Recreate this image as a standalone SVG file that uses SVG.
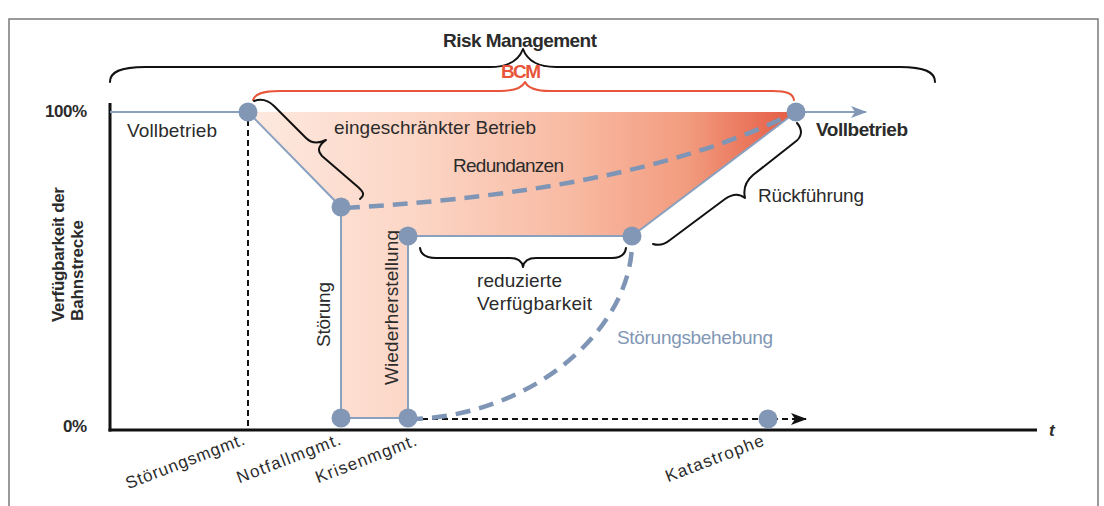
<svg xmlns="http://www.w3.org/2000/svg" width="1104" height="506" viewBox="0 0 1104 506">
  <defs>
    <linearGradient id="bcmFill" gradientUnits="userSpaceOnUse" x1="248" y1="0" x2="796" y2="0">
      <stop offset="0" stop-color="#fde9e0"/>
      <stop offset="0.3" stop-color="#fcd6c6"/>
      <stop offset="0.6" stop-color="#f8b9a1"/>
      <stop offset="0.8" stop-color="#f29c7f"/>
      <stop offset="1" stop-color="#e45a42"/>
    </linearGradient>
    <marker id="arrowBlue" viewBox="0 0 16 12" refX="15" refY="6" markerWidth="16" markerHeight="12" markerUnits="userSpaceOnUse" orient="auto">
      <path d="M0,0 L16,6 L0,12 L4,6 Z" fill="#8197b5"/>
    </marker>
    <marker id="arrowBlack" viewBox="0 0 16 12" refX="15" refY="6" markerWidth="16" markerHeight="12" markerUnits="userSpaceOnUse" orient="auto">
      <path d="M0,0 L16,6 L0,12 L4,6 Z" fill="#111"/>
    </marker>
  </defs>
  <style>
    .txt { font-family: "Liberation Sans", Arial, sans-serif; fill: #2b2b2b; }
    .lbl { font-size: 19px; }
    .bold { font-weight: bold; }
    .tick { font-size: 17px; }
    .path { fill: none; stroke: #8aa0bf; stroke-width: 2; }
    .dashBlue { fill: none; stroke: #7f95b5; stroke-width: 4.5; stroke-dasharray: 15 9; }
    .brace { fill: none; stroke: #111; stroke-width: 2; stroke-linecap: round; stroke-linejoin: round; }
    .node { fill: #8197b5; }
    .axis { stroke: #111; stroke-width: 3; fill: none; }
  </style>

  <!-- outer frame -->
  <path d="M9,506 L9,19 L1098,19 L1098,506" fill="none" stroke="#7a7a7a" stroke-width="1.5"/>

  <!-- shaded availability region -->
  <g id="region">
    <polygon points="248,112 796,112 632,236 408,236 408,418 341,418 341,207" fill="url(#bcmFill)"/>
  </g>

  <!-- axes -->
  <g id="axes">
    <line class="axis" x1="110" y1="103" x2="110" y2="431.5"/>
    <line class="axis" x1="108.5" y1="430" x2="1037" y2="430"/>
    <text class="txt bold" x="87" y="117" font-size="17" text-anchor="end" textLength="42">100%</text>
    <text class="txt bold" x="87" y="432" font-size="17" text-anchor="end" textLength="24">0%</text>
    <text class="txt bold" x="1049" y="436" font-size="17" font-style="italic">t</text>
    <text class="txt bold" font-size="17" transform="translate(64,322) rotate(-90)" textLength="135">Verfügbarkeit der</text>
    <text class="txt bold" font-size="17" transform="translate(83,321) rotate(-90)" textLength="101">Bahnstrecke</text>
  </g>

  <!-- connectors -->
  <g id="connectors">
    <line x1="248" y1="120" x2="248" y2="429" stroke="#111" stroke-width="2" stroke-dasharray="6 4"/>
    <line x1="412" y1="419" x2="806" y2="419" stroke="#111" stroke-width="2" stroke-dasharray="6 4" marker-end="url(#arrowBlack)"/>
    <polyline class="path" points="110,112 248,112 341,207 341,418 408,418 408,236 632,236 796,112"/>
    <line x1="796" y1="112" x2="866" y2="112" stroke="#8aa0bf" stroke-width="2" marker-end="url(#arrowBlue)"/>
    <path class="dashBlue" d="M345,208 C480,200 660,180 796,112"/>
    <path class="dashBlue" d="M408,419 C530,418 632,330 632,242"/>
  </g>

  <!-- braces -->
  <g id="brace-risk">
    <path class="brace" d="M110,82 C110,72 120,67 145,67 L490,67 C508,67 519,60 523,49 C527,60 538,67 556,67 L900,67 C925,67 935,72 935,82"/>
    <text class="txt bold" x="443" y="47" font-size="19" textLength="154">Risk Management</text>
  </g>
  <g id="brace-bcm">
    <path class="brace" style="stroke:#e8553a" d="M253,100 C255,94 262,91 280,91 L500,91 C515,91 522,88 525,82 C528,88 535,91 550,91 L772,91 C788,91 793,94 794,100"/>
    <text class="txt bold" x="501" y="78" font-size="19" style="fill:#e8553a" textLength="40">BCM</text>
  </g>
  <g id="brace-eingeschraenkt">
    <path class="brace" d="M254,101 C262,98 268,100 274,106 L306,138 C311,143 318,144 326,140 C318,146 317,151 322,156 L358,187 C365,193 364,196 360,199"/>
    <text class="txt lbl" x="334" y="134" textLength="202">eingeschränkter Betrieb</text>
  </g>
  <g id="brace-rueckfuehrung">
    <path class="brace" d="M797,123 C803,130 802,137 795,142 L753,175 C746,181 743,189 745,198 C739,193 732,194 725,199 L670,240 C664,245 659,246 653,244"/>
    <text class="txt lbl" x="758" y="202" textLength="106">Rückführung</text>
  </g>
  <g id="brace-reduziert">
    <path class="brace" d="M420,248 C421,255 426,258 436,258 L510,258 C518,258 522,261 523,267 C524,261 528,258 536,258 L612,258 C620,258 625,255 626,248"/>
    <text class="txt lbl" x="477" y="287" textLength="85">reduzierte</text>
    <text class="txt lbl" x="477" y="310" textLength="115">Verfügbarkeit</text>
  </g>

  <!-- labels inside the chart -->
  <g id="labels">
    <text class="txt lbl" x="127" y="137" textLength="90">Vollbetrieb</text>
    <text class="txt lbl" x="453" y="172" textLength="111">Redundanzen</text>
    <text class="txt lbl bold" x="816" y="136" textLength="92">Vollbetrieb</text>
    <text class="txt lbl" x="617" y="344" style="fill:#8197b5" textLength="156">Störungsbehebung</text>
    <text class="txt lbl" transform="translate(330,347) rotate(-90)" textLength="65">Störung</text>
    <text class="txt lbl" transform="translate(398,385) rotate(-90)" textLength="155">Wiederherstellung</text>
  </g>

  <!-- state nodes -->
  <g id="node-start"><circle class="node" cx="248" cy="112" r="9.5"/></g>
  <g id="node-stoerung"><circle class="node" cx="341" cy="207" r="9.5"/></g>
  <g id="node-notfall"><circle class="node" cx="341" cy="418" r="9.5"/></g>
  <g id="node-krise"><circle class="node" cx="408" cy="418" r="9.5"/></g>
  <g id="node-wiederherstellung"><circle class="node" cx="408" cy="236" r="9.5"/></g>
  <g id="node-reduziert"><circle class="node" cx="632" cy="236" r="9.5"/></g>
  <g id="node-vollbetrieb"><circle class="node" cx="796" cy="112" r="9.5"/></g>
  <g id="node-katastrophe"><circle class="node" cx="768" cy="419" r="9.5"/></g>

  <!-- phase labels along the time axis -->
  <g id="phase-labels">
    <text class="txt tick" text-anchor="end" transform="translate(246,444) rotate(-21)" textLength="126">Störungsmgmt.</text>
    <text class="txt tick" text-anchor="end" transform="translate(342,444) rotate(-21)" textLength="110">Notfallmgmt.</text>
    <text class="txt tick" text-anchor="end" transform="translate(418,445) rotate(-21)" textLength="107">Krisenmgmt.</text>
    <text class="txt tick" text-anchor="end" transform="translate(765,445) rotate(-21)" textLength="104">Katastrophe</text>
  </g>
</svg>
